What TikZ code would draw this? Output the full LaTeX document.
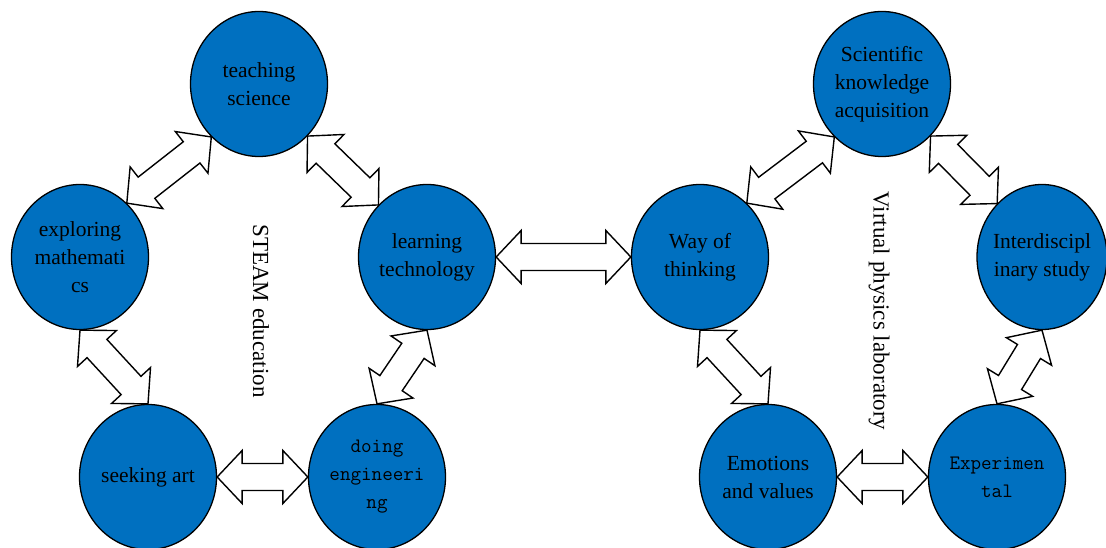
\documentclass[tikz,border=0pt]{standalone}
\usepackage{fontspec}
\setmainfont{Liberation Serif}
\usetikzlibrary{shapes.geometric,calc}
\definecolor{blueC}{RGB}{0,112,192}
\tikzset{
  bubble/.style={ellipse, draw=black, line width=1.3pt, fill=blueC, minimum width=137pt, minimum height=145pt, inner sep=0pt},
  lbl/.style={align=center, inner sep=0pt, text=black, font=\fontsize{21.5}{28}\selectfont},
  mlbl/.style={align=center, inner sep=0pt, text=black, font=\ttfamily\fontsize{20.5}{28}\selectfont},
  vlbl/.style={inner sep=0pt, text=black, rotate=-90, font=\fontsize{23}{28}\selectfont},
  barrow/.style={draw=black, fill=white, line width=1.4pt, line join=miter}
}
\newcommand\dblarrow[2]{%
\draw[barrow] let \p1=(#1), \p2=(#2), \n1={atan2(\y2-\y1,\x2-\x1)} in
 (\p1) -- ($(\p1)+({\n1}:25pt)+({\n1+90}:26.5pt)$) -- ($(\p1)+({\n1}:25pt)+({\n1+90}:13.5pt)$)
 -- ($(\p2)+({\n1}:-25pt)+({\n1+90}:13.5pt)$) -- ($(\p2)+({\n1}:-25pt)+({\n1+90}:26.5pt)$)
 -- (\p2) -- ($(\p2)+({\n1}:-25pt)+({\n1-90}:26.5pt)$) -- ($(\p2)+({\n1}:-25pt)+({\n1-90}:13.5pt)$)
 -- ($(\p1)+({\n1}:25pt)+({\n1-90}:13.5pt)$) -- ($(\p1)+({\n1}:25pt)+({\n1-90}:26.5pt)$) -- cycle;}
\begin{document}
\begin{tikzpicture}[x=1pt,y=-1pt]
\useasboundingbox (0,0) rectangle (1106,548);
% circles
\node[bubble] (ts) at (259,84) {};
\node[bubble] (em) at (80,257) {};
\node[bubble] (lt) at (427,257) {};
\node[bubble] (sa) at (148,477) {};
\node[bubble] (de) at (377,477) {};
\node[bubble] (wt) at (700,257) {};
\node[bubble] (sk) at (882,84) {};
\node[bubble, minimum width=130pt] (id) at (1042,257) {};
\node[bubble] (ev) at (768,477) {};
\node[bubble] (ex) at (997,477) {};
% labels
\node[lbl] (tsl) at (ts) {teaching\\science};
\node[lbl] (eml) at (em) {exploring\\mathemati\\cs};
\node[lbl] (ltl) at (lt) {learning\\technology};
\node[lbl] (sal) at (sa) {seeking art};
\node[mlbl] (del) at (de) {doing\\engineeri\\ng};
\node[lbl] (wtl) at (wt) {Way of\\thinking};
\node[lbl] (skl) at (sk) {Scientific\\knowledge\\acquisition};
\node[lbl] (idl) at (id) {Interdiscipl\\inary study};
\node[lbl] (evl) at (ev) {Emotions\\and values};
\node[mlbl] (exl) at (ex) {Experimen\\tal};
\node[vlbl] (steam) at (261,311) {STEAM education};
\node[vlbl] (vpl) at (879,311) {Virtual physics laboratory};
% arrows
\dblarrow{ts.228}{em.49}
\dblarrow{ts.313}{lt.133}
\dblarrow{em.south}{sa.north}
\dblarrow{lt.south}{de.north}
\dblarrow{sa.east}{de.west}
\dblarrow{lt.east}{wt.west}
\dblarrow{wt.49}{sk.228}
\dblarrow{sk.313}{id.130}
\dblarrow{wt.south}{ev.north}
\dblarrow{id.south}{ex.north}
\dblarrow{ev.east}{ex.west}
\end{tikzpicture}
\end{document}
